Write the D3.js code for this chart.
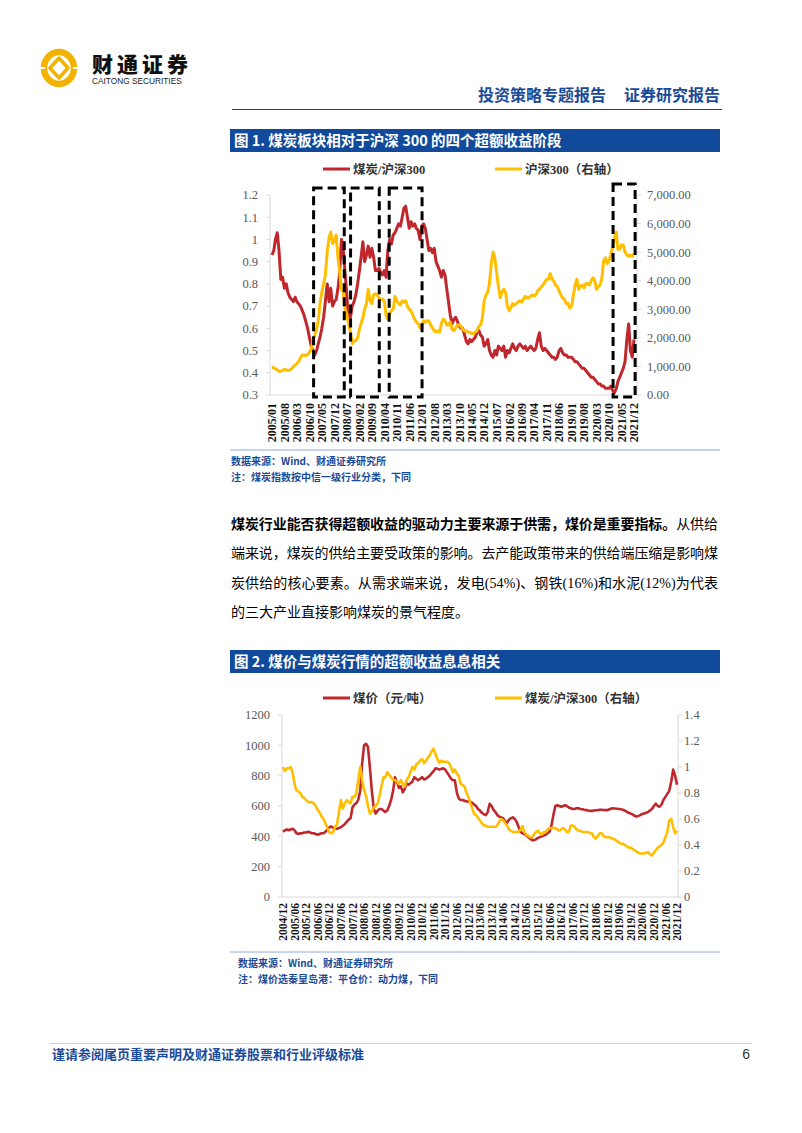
<!DOCTYPE html>
<html>
<head>
<meta charset="utf-8">
<script src="https://cdn.jsdelivr.net/npm/d3@7"></script>
<style>
body{margin:0;background:#fff;}
svg{display:block;}
</style>
</head>
<body>
<svg id="page" width="802" height="1133"></svg>
<script>
// ---- 数据 ----
// 图1：煤炭/沪深300（左轴），沪深300（右轴），2005/01 起逐月
var coalRel1 = [
 0.93,0.95,1.0,1.03,0.95,0.82,0.83,0.78,0.8,0.76,0.74,0.73,
 0.72,0.74,0.72,0.71,0.7,0.68,0.66,0.63,0.6,0.56,0.52,0.5,
 0.48,0.5,0.53,0.56,0.6,0.65,0.72,0.8,0.72,0.78,0.7,0.72,
 0.73,0.78,0.85,1.0,0.95,0.85,0.75,0.63,0.65,0.7,0.72,0.75,
 0.8,0.86,0.92,0.99,0.9,0.93,0.97,0.92,0.96,0.92,0.86,0.86,
 0.87,0.85,0.84,0.86,0.83,0.95,1.0,0.98,1.02,1.03,1.05,1.07,
 1.06,1.1,1.14,1.15,1.1,1.05,1.08,1.06,1.07,1.05,1.04,1.0,
 1.06,1.07,1.05,1.0,0.95,0.96,0.94,0.96,0.9,0.88,0.86,0.83,
 0.86,0.84,0.78,0.72,0.66,0.62,0.64,0.65,0.63,0.61,0.6,0.6,
 0.57,0.54,0.53,0.55,0.54,0.55,0.56,0.58,0.59,0.57,0.56,0.52,
 0.53,0.55,0.5,0.48,0.47,0.5,0.48,0.52,0.51,0.5,0.52,0.47,
 0.5,0.49,0.51,0.53,0.51,0.5,0.52,0.53,0.52,0.51,0.52,0.5,
 0.51,0.52,0.51,0.5,0.51,0.55,0.58,0.52,0.5,0.51,0.5,0.49,
 0.48,0.47,0.47,0.46,0.47,0.5,0.51,0.49,0.48,0.48,0.47,0.47,
 0.47,0.46,0.45,0.45,0.44,0.43,0.42,0.42,0.41,0.4,0.39,0.38,
 0.38,0.37,0.36,0.35,0.35,0.34,0.34,0.33,0.33,0.33,0.34,0.32,
 0.31,0.33,0.36,0.38,0.4,0.42,0.45,0.55,0.62,0.5,0.47,0.55
];
var hs300 = [
 990,950,920,880,830,830,860,900,880,860,870,920,
 990,1050,1100,1170,1300,1400,1400,1380,1420,1500,1600,1900,
 2100,2300,2600,3200,3600,3900,4200,5000,5500,5700,5300,5400,
 5600,4800,4300,3700,3600,3000,2800,2500,2200,1800,1900,1900,
 2000,2300,2500,2700,3000,3200,3700,3300,3200,3500,3550,3500,
 3400,3350,3350,3300,2800,2650,2850,2950,3000,3450,3300,3200,
 3150,3300,3250,3300,3100,3000,2950,2800,2650,2550,2500,2350,
 2400,2600,2550,2600,2600,2450,2350,2250,2200,2250,2200,2500,
 2650,2600,2450,2450,2550,2300,2250,2350,2450,2450,2400,2300,
 2250,2250,2200,2200,2150,2150,2200,2250,2400,2450,2700,3300,
 3500,3600,3900,4600,5000,4800,4300,3800,3400,3600,3700,3600,
 3100,2950,3050,3200,3150,3200,3250,3300,3250,3350,3450,3400,
 3400,3450,3500,3480,3500,3650,3700,3780,3850,3950,4050,4050,
 4250,4050,4000,3850,3800,3650,3500,3400,3350,3200,3200,3050,
 3100,3500,3850,4050,3700,3800,3850,3750,3900,3900,3850,4000,
 4100,4000,3700,3800,3850,4100,4700,4800,4600,4700,4900,5200,
 5500,5700,5100,5100,5250,5250,5000,4900,4850,4900,4850,4950
];
var ticks1 = ["2005/01","2005/08","2006/03","2006/10","2007/05","2007/12","2008/07","2009/02",
 "2009/09","2010/04","2010/11","2011/06","2012/01","2012/08","2013/03","2013/10","2014/05",
 "2014/12","2015/07","2016/02","2016/09","2017/04","2017/11","2018/06","2019/01","2019/08",
 "2020/03","2020/10","2021/05","2021/12"];
var leftTicks1 = [0.3,0.4,0.5,0.6,0.7,0.8,0.9,1,1.1,1.2];
var rightTicks1 = [0,1000,2000,3000,4000,5000,6000,7000];
// 四个超额收益阶段（虚线框）
var phases = [["2006-12-12","2008-05-18"],["2008-09-03","2010-01-06"],
              ["2010-06-24","2012-01-06"],["2020-12-09","2021-12-20"]];

// 图2：煤价（左轴），煤炭/沪深300（右轴），2004/12 起逐月
var coalPrice = [
 430,
 440,445,440,445,450,440,420,415,420,420,425,425,
 430,425,420,420,415,410,415,420,420,430,445,460,
 465,455,450,450,455,460,470,480,495,510,520,590,
 610,620,640,700,880,1000,1010,990,850,700,580,550,
 570,580,580,570,560,570,600,640,700,790,760,720,
 730,690,710,750,740,750,760,790,780,770,780,790,
 775,780,790,800,815,830,848,845,840,845,848,840,
 820,800,780,770,770,690,650,640,640,635,630,630,
 628,620,610,600,580,570,555,545,540,560,615,600,
 575,560,540,530,525,520,500,490,510,520,525,515,
 495,460,430,420,415,405,395,385,375,375,380,390,
 395,400,405,410,420,430,470,540,600,605,600,595,
 600,605,600,590,585,580,580,585,585,580,578,575,
 573,570,568,568,570,572,573,575,575,574,573,573,
 578,583,585,583,582,580,578,575,570,562,555,550,
 545,535,530,535,540,548,550,555,560,570,580,600,
 615,600,595,610,640,660,680,700,760,840,800,740
];
var coalRel2 = [
 1.0,
 0.97,0.99,0.99,1.0,0.96,0.87,0.82,0.81,0.8,0.77,0.76,0.745,
 0.73,0.73,0.73,0.72,0.7,0.67,0.65,0.62,0.6,0.565,0.53,0.5,
 0.49,0.5,0.54,0.56,0.65,0.745,0.68,0.72,0.745,0.73,0.72,0.77,
 0.77,0.8,0.9,1.0,0.9,0.82,0.78,0.7,0.64,0.66,0.69,0.7,
 0.72,0.78,0.85,0.92,0.92,0.96,0.94,0.92,0.9,0.9,0.89,0.87,
 0.9,0.87,0.85,0.9,0.92,0.96,1.0,0.98,1.02,1.03,1.05,1.06,
 1.03,1.05,1.07,1.09,1.12,1.14,1.1,1.06,1.03,1.05,1.04,1.04,
 1.04,1.03,1.0,0.96,0.98,0.95,0.93,0.87,0.86,0.85,0.8,0.77,
 0.72,0.68,0.64,0.63,0.61,0.59,0.57,0.55,0.55,0.54,0.54,0.54,
 0.54,0.54,0.55,0.58,0.6,0.59,0.57,0.55,0.52,0.51,0.5,0.5,
 0.5,0.5,0.52,0.545,0.5,0.48,0.47,0.46,0.46,0.48,0.5,0.51,
 0.49,0.48,0.5,0.5,0.52,0.53,0.53,0.53,0.53,0.52,0.51,0.52,
 0.53,0.52,0.5,0.5,0.55,0.55,0.54,0.52,0.51,0.51,0.5,0.5,
 0.5,0.5,0.49,0.49,0.46,0.45,0.47,0.49,0.49,0.47,0.46,0.46,
 0.46,0.45,0.45,0.44,0.43,0.42,0.41,0.41,0.4,0.39,0.38,0.38,
 0.37,0.36,0.35,0.34,0.335,0.335,0.335,0.34,0.345,0.33,0.32,0.34,
 0.36,0.38,0.39,0.4,0.42,0.46,0.5,0.59,0.6,0.54,0.49,0.51
];
var ticks2 = ["2004/12","2005/06","2005/12","2006/06","2006/12","2007/06","2007/12","2008/06",
 "2008/12","2009/06","2009/12","2010/06","2010/12","2011/06","2011/12","2012/06","2012/12",
 "2013/06","2013/12","2014/06","2014/12","2015/06","2015/12","2016/06","2016/12","2017/06",
 "2017/12","2018/06","2018/12","2019/06","2019/12","2020/06","2020/12","2021/06","2021/12"];
var leftTicks2 = [0,200,400,600,800,1000,1200];
var rightTicks2 = [0,0.2,0.4,0.6,0.8,1,1.2,1.4];

// ---- 样式 ----
var RED = "#c0272d", YELLOW = "#ffbf00", BLUE = "#1a4b98", BAR = "#124a9b";
var SERIF = "'Liberation Serif','Times New Roman','Noto Sans CJK SC',serif";
var CJK = "'Noto Sans CJK SC','Liberation Serif',sans-serif";

var parseM = d3.timeParse("%Y/%m");
var parseD = d3.timeParse("%Y-%m-%d");
function monthSeries(start, vals){
  var d0 = parseM(start);
  return vals.map(function(v, i){ return {date: d3.timeMonth.offset(d0, i), value: v}; });
}

var svg = d3.select("#page");
svg.append("rect").attr("width", 802).attr("height", 1133).attr("fill", "#fff");

// ---- 页眉 ----
var logo = svg.append("g").attr("transform", "translate(59,68)");
logo.append("ellipse").attr("rx", 15).attr("ry", 16).attr("fill", "none").attr("stroke", "#f2b300").attr("stroke-width", 6.5);
logo.append("path").attr("d", "M0,-10 L9,0 L0,10 L-9,0 Z").attr("fill", "none")
  .attr("stroke", "#f2b300").attr("stroke-width", 3.5).attr("stroke-linejoin", "round");
logo.append("rect").attr("x", -20).attr("y", -1).attr("width", 6).attr("height", 2).attr("fill", "#fff");
logo.append("rect").attr("x", 14).attr("y", -1).attr("width", 6).attr("height", 2).attr("fill", "#fff");
svg.append("text").attr("x", 92).attr("y", 72).attr("font-family", CJK).attr("font-size", 21)
  .attr("font-weight", 900).attr("letter-spacing", 4).attr("fill", "#111").text("财通证券");
svg.append("text").attr("x", 92).attr("y", 84).attr("font-family", "'Liberation Sans',Arial,sans-serif")
  .attr("font-size", 8.3).attr("fill", "#222").text("CAITONG SECURITIES");
svg.append("text").attr("x", 606).attr("y", 101).attr("text-anchor", "end").attr("font-family", CJK)
  .attr("font-size", 16).attr("font-weight", "bold").attr("fill", BLUE).text("投资策略专题报告");
svg.append("text").attr("x", 720).attr("y", 101).attr("text-anchor", "end").attr("font-family", CJK)
  .attr("font-size", 16).attr("font-weight", "bold").attr("fill", BLUE).text("证券研究报告");
svg.append("line").attr("x1", 232).attr("x2", 722).attr("y1", 109.5).attr("y2", 109.5)
  .attr("stroke", "#3a3a3a").attr("stroke-width", 1);

// ---- 通用：标题条、图例、来源 ----
function titleBar(y, label){
  svg.append("rect").attr("x", 230).attr("y", y).attr("width", 490).attr("height", 23).attr("fill", BAR);
  svg.append("text").attr("x", 234).attr("y", y + 17).attr("font-family", CJK).attr("font-size", 14.5)
    .attr("font-weight", "bold").attr("fill", "#fff").text(label);
}
function legend(y, items){
  items.forEach(function(it){
    svg.append("line").attr("x1", it.x).attr("x2", it.x + 27).attr("y1", y).attr("y2", y)
      .attr("stroke", it.color).attr("stroke-width", 3);
    svg.append("text").attr("x", it.x + 30).attr("y", y + 4.5).attr("font-family", SERIF)
      .attr("font-size", 12.5).attr("font-weight", "bold").attr("fill", "#333").text(it.name);
  });
}
function source(x, y, lines){
  svg.append("line").attr("x1", 230).attr("x2", 720).attr("y1", y).attr("y2", y)
    .attr("stroke", "#8ea9d6").attr("stroke-width", 1);
  lines.forEach(function(t, i){
    svg.append("text").attr("x", x).attr("y", y + 15 + i * 16).attr("font-family", CJK)
      .attr("font-size", 10).attr("font-weight", "bold").attr("fill", BLUE).text(t);
  });
}
function frame(p){
  var g = svg.append("g").attr("stroke", "#d9d9d9").attr("stroke-width", 1);
  g.append("line").attr("x1", p.left).attr("x2", p.left).attr("y1", p.top).attr("y2", p.bottom);
  g.append("line").attr("x1", p.right).attr("x2", p.right).attr("y1", p.top).attr("y2", p.bottom);
  g.append("line").attr("x1", p.left).attr("x2", p.right).attr("y1", p.bottom).attr("y2", p.bottom);
}
function yAxis(scale, ticks, fmt, x, anchor, tickX, tickDir){
  ticks.forEach(function(t){
    svg.append("text").attr("x", x).attr("y", scale(t)).attr("dy", "0.35em")
      .attr("text-anchor", anchor).attr("font-family", SERIF).attr("font-size", 12.5)
      .attr("fill", "#595959").text(fmt(t));
    svg.append("line").attr("x1", tickX).attr("x2", tickX + tickDir * 4)
      .attr("y1", scale(t)).attr("y2", scale(t)).attr("stroke", "#d9d9d9");
  });
}
function xLabels(scale, ticks, y, size){
  ticks.forEach(function(t){
    var x = scale(parseM(t));
    svg.append("text").attr("transform", "translate(" + (x + size * 0.36) + "," + y + ") rotate(-90)")
      .attr("text-anchor", "end").attr("font-family", SERIF).attr("font-size", size)
      .attr("font-weight", "bold").attr("fill", "#111").text(t);
  });
}

// ---- 图1 ----
titleBar(129, "图 1. 煤炭板块相对于沪深 300 的四个超额收益阶段");
legend(169, [{x: 323, color: RED, name: "煤炭/沪深300"}, {x: 495, color: YELLOW, name: "沪深300（右轴）"}]);

var p1 = {left: 270, right: 637, top: 195, bottom: 395};
var s1a = monthSeries("2005/01", coalRel1);
var s1b = monthSeries("2005/01", hs300);
var x1 = d3.scaleTime().domain([parseM("2005/01"), parseM("2021/12")]).range([272, 634]);
var y1L = d3.scaleLinear().domain([0.3, 1.2]).range([p1.bottom, p1.top]);
var y1R = d3.scaleLinear().domain([0, 7000]).range([p1.bottom, p1.top]);

frame(p1);
yAxis(y1L, leftTicks1, function(d){ return String(d); }, 258, "end", p1.left, -1);
yAxis(y1R, rightTicks1, d3.format(",.2f"), 647, "start", p1.right, 1);
xLabels(x1, ticks1, 403, 12);

svg.append("path").datum(s1a).attr("fill", "none").attr("stroke", RED).attr("stroke-width", 3)
  .attr("stroke-linejoin", "round")
  .attr("d", d3.line().x(function(d){ return x1(d.date); }).y(function(d){ return y1L(d.value); }));
svg.append("path").datum(s1b).attr("fill", "none").attr("stroke", YELLOW).attr("stroke-width", 3)
  .attr("stroke-linejoin", "round")
  .attr("d", d3.line().x(function(d){ return x1(d.date); }).y(function(d){ return y1R(d.value); }));

// 虚线框
phases.forEach(function(ph, i){
  var xa = x1(parseD(ph[0])), xb = x1(parseD(ph[1]));
  var top = i == 3 ? p1.top - 11 : p1.top - 7;
  svg.append("rect").attr("x", xa).attr("y", top).attr("width", xb - xa).attr("height", p1.bottom + 2 - top)
    .attr("fill", "none").attr("stroke", "#000").attr("stroke-width", 3).attr("stroke-dasharray", "9,5");
});

source(231, 450, ["数据来源：Wind、财通证券研究所", "注：煤炭指数按中信一级行业分类，下同"]);

// ---- 正文 ----
var body = svg.append("g").attr("font-family", SERIF).attr("font-size", 14).attr("fill", "#000");
var l1 = body.append("text").attr("x", 231).attr("y", 529).attr("textLength", 487).attr("lengthAdjust", "spacing");
l1.append("tspan").attr("font-family", CJK).attr("font-weight", "bold").text("煤炭行业能否获得超额收益的驱动力主要来源于供需，煤价是重要指标。");
l1.append("tspan").attr("font-family", CJK).text("从供给");
body.append("text").attr("x", 231).attr("y", 558).attr("textLength", 487).attr("lengthAdjust", "spacing")
  .attr("font-family", CJK).text("端来说，煤炭的供给主要受政策的影响。去产能政策带来的供给端压缩是影响煤");
var l3 = body.append("text").attr("x", 231).attr("y", 588).attr("textLength", 487).attr("lengthAdjust", "spacing");
[["炭供给的核心要素。从需求端来说，发电", CJK], ["(54%)", SERIF], ["、钢铁", CJK], ["(16%)", SERIF],
 ["和水泥", CJK], ["(12%)", SERIF], ["为代表", CJK]].forEach(function(p){
  l3.append("tspan").attr("font-family", p[1]).text(p[0]);
});
body.append("text").attr("x", 231).attr("y", 617).attr("font-family", CJK).text("的三大产业直接影响煤炭的景气程度。");

// ---- 图2 ----
titleBar(650, "图 2. 煤价与煤炭行情的超额收益息息相关");
legend(698, [{x: 323, color: RED, name: "煤价（元/吨）"}, {x: 495, color: YELLOW, name: "煤炭/沪深300（右轴）"}]);

var p2 = {left: 282, right: 678, top: 715, bottom: 897};
var s2a = monthSeries("2004/12", coalPrice);
var s2b = monthSeries("2004/12", coalRel2);
var x2 = d3.scaleTime().domain([parseM("2004/12"), parseM("2021/12")]).range([283, 677]);
var y2L = d3.scaleLinear().domain([0, 1200]).range([p2.bottom, p2.top]);
var y2R = d3.scaleLinear().domain([0, 1.4]).range([p2.bottom, p2.top]);

frame(p2);
yAxis(y2L, leftTicks2, function(d){ return String(d); }, 270, "end", p2.left, -1);
yAxis(y2R, rightTicks2, function(d){ return String(d); }, 684, "start", p2.right, 1);
xLabels(x2, ticks2, 903, 11.5);

svg.append("path").datum(s2a).attr("fill", "none").attr("stroke", RED).attr("stroke-width", 2.6)
  .attr("stroke-linejoin", "round")
  .attr("d", d3.line().x(function(d){ return x2(d.date); }).y(function(d){ return y2L(d.value); }));
svg.append("path").datum(s2b).attr("fill", "none").attr("stroke", YELLOW).attr("stroke-width", 2.6)
  .attr("stroke-linejoin", "round")
  .attr("d", d3.line().x(function(d){ return x2(d.date); }).y(function(d){ return y2R(d.value); }));

source(238, 952, ["数据来源：Wind、财通证券研究所", "注：煤价选秦皇岛港：平仓价：动力煤，下同"]);

// ---- 页脚 ----
svg.append("line").attr("x1", 50).attr("x2", 752).attr("y1", 1043.5).attr("y2", 1043.5)
  .attr("stroke", "#cfcfcf").attr("stroke-width", 1);
svg.append("text").attr("x", 52).attr("y", 1059).attr("font-family", CJK).attr("font-size", 13)
  .attr("font-weight", "bold").attr("fill", BLUE).text("谨请参阅尾页重要声明及财通证券股票和行业评级标准");
svg.append("text").attr("x", 750).attr("y", 1059).attr("text-anchor", "end")
  .attr("font-family", "'Liberation Sans',Arial,sans-serif").attr("font-size", 14).attr("fill", "#333").text("6");
</script>
</body>
</html>
